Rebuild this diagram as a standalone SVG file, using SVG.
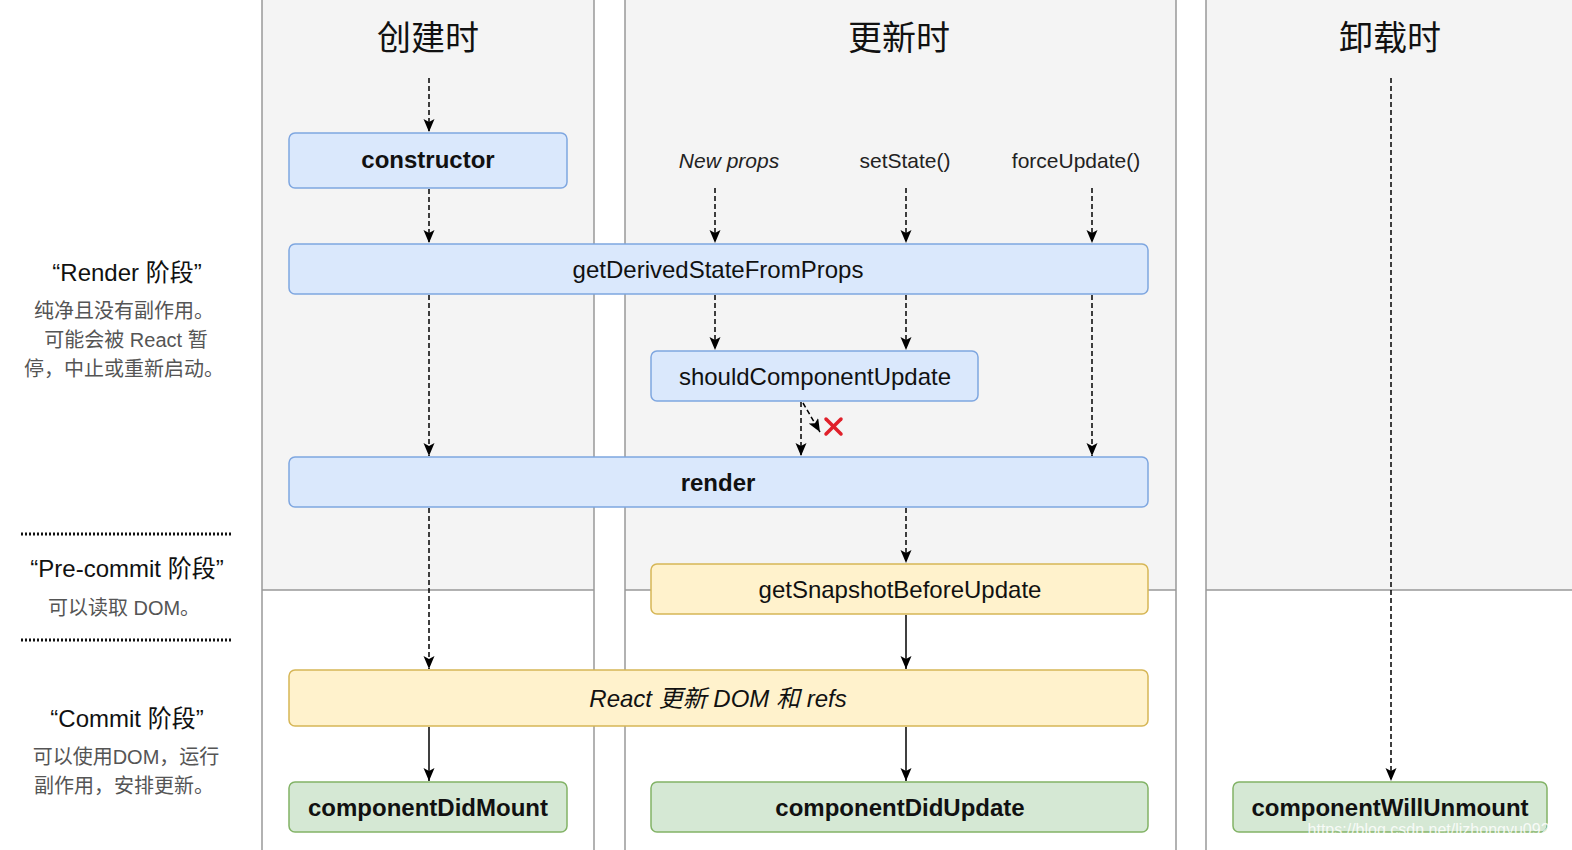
<svg xmlns="http://www.w3.org/2000/svg" width="1572" height="850" viewBox="0 0 1572 850">
<style>
text{font-family:"Liberation Sans","Noto Sans CJK SC",sans-serif;}
.hdr{font-size:34px;fill:#111;text-anchor:middle;}
.blue{fill:#dae8fc;stroke:#7ea6e0;stroke-width:1.5;}
.yel{fill:#fff2cc;stroke:#d6b656;stroke-width:1.5;}
.grn{fill:#d5e8d4;stroke:#82b366;stroke-width:1.5;}
.bt{font-size:24px;fill:#111;text-anchor:middle;}
.b{font-weight:bold;}
.lab{font-size:21px;fill:#222;text-anchor:middle;}
.lt{font-size:24px;fill:#111;text-anchor:middle;}
.ls{font-size:20px;fill:#555;text-anchor:middle;}
.d{stroke:#000;stroke-width:1.5;stroke-dasharray:5 3;fill:none;marker-end:url(#ah);}
.s{stroke:#000;stroke-width:1.5;fill:none;marker-end:url(#ah);}
.col{stroke:#999;stroke-width:1.5;}
</style>
<defs>
<marker id="ah" markerWidth="14" markerHeight="12" refX="13" refY="5.5" orient="auto" markerUnits="userSpaceOnUse">
<path d="M0,0 L13,5.5 L0,11 L3,5.5 Z" fill="#000"/>
</marker>
</defs>
<rect width="1572" height="850" fill="#fff"/>
<g id="columns">
<rect x="262" y="0" width="332" height="590" fill="#f4f4f4"/>
<rect x="625" y="0" width="551" height="590" fill="#f4f4f4"/>
<rect x="1206" y="0" width="366" height="590" fill="#f4f4f4"/>
<line class="col" x1="262" y1="590" x2="594" y2="590" stroke="#bbb"/>
<line class="col" x1="625" y1="590" x2="1176" y2="590" stroke="#bbb"/>
<line class="col" x1="1206" y1="590" x2="1572" y2="590" stroke="#bbb"/>
<line class="col" x1="262" y1="0" x2="262" y2="850"/>
<line class="col" x1="594" y1="0" x2="594" y2="850"/>
<line class="col" x1="625" y1="0" x2="625" y2="850"/>
<line class="col" x1="1176" y1="0" x2="1176" y2="850"/>
<line class="col" x1="1206" y1="0" x2="1206" y2="850"/>
<text class="hdr" x="428" y="50">创建时</text>
<text class="hdr" x="899" y="50">更新时</text>
<text class="hdr" x="1390" y="50">卸载时</text>
</g>
<g id="phases">
<text class="lt" x="127" y="281">“Render 阶段”</text>
<text class="ls" x="124" y="318">纯净且没有副作用。</text>
<text class="ls" x="126" y="347">可能会被 React 暂</text>
<text class="ls" x="124" y="376">停，中止或重新启动。</text>
<line x1="21" y1="534" x2="233" y2="534" stroke="#111" stroke-width="3" stroke-dasharray="2 2"/>
<text class="lt" x="127" y="577">“Pre-commit 阶段”</text>
<text class="ls" x="124" y="615">可以读取 DOM。</text>
<line x1="21" y1="640" x2="233" y2="640" stroke="#111" stroke-width="3" stroke-dasharray="2 2"/>
<text class="lt" x="127" y="727">“Commit 阶段”</text>
<text class="ls" x="126" y="764">可以使用DOM，运行</text>
<text class="ls" x="124" y="793">副作用，安排更新。</text>
</g>
<g id="labels">
<text class="lab" x="729" y="168" font-style="italic">New props</text>
<text class="lab" x="905" y="168">setState()</text>
<text class="lab" x="1076" y="168">forceUpdate()</text>
</g>
<g id="connectors">
<line class="d" x1="429" y1="78" x2="429" y2="132"/>
<line class="d" x1="429" y1="189" x2="429" y2="243"/>
<line class="d" x1="429" y1="295" x2="429" y2="456"/>
<line class="d" x1="429" y1="508" x2="429" y2="669"/>
<line class="s" x1="429" y1="727" x2="429" y2="781"/>
<line class="d" x1="715" y1="188" x2="715" y2="243"/>
<line class="d" x1="715" y1="295" x2="715" y2="350"/>
<line class="d" x1="906" y1="188" x2="906" y2="243"/>
<line class="d" x1="906" y1="295" x2="906" y2="350"/>
<line class="d" x1="906" y1="508" x2="906" y2="563"/>
<line class="s" x1="906" y1="615" x2="906" y2="669"/>
<line class="s" x1="906" y1="727" x2="906" y2="781"/>
<line class="d" x1="1092" y1="188" x2="1092" y2="243"/>
<line class="d" x1="1092" y1="295" x2="1092" y2="456"/>
<line class="d" x1="801" y1="402" x2="801" y2="456"/>
<line class="d" x1="803" y1="403" x2="820" y2="432"/>
<line class="d" x1="1391" y1="78" x2="1391" y2="781"/>
<g stroke="#e0202a" stroke-width="3.5" stroke-linecap="round">
<line x1="826" y1="419" x2="841" y2="434"/>
<line x1="841" y1="419" x2="826" y2="434"/>
</g>
</g>
<g id="constructor"><rect class="blue" x="289" y="133" width="278" height="55" rx="6"/><text class="bt b" x="428" y="168">constructor</text></g>
<g id="gdsfp"><rect class="blue" x="289" y="244" width="859" height="50" rx="6"/><text class="bt" x="718" y="278">getDerivedStateFromProps</text></g>
<g id="scu"><rect class="blue" x="651" y="351" width="327" height="50" rx="6"/><text class="bt" x="815" y="385">shouldComponentUpdate</text></g>
<g id="render"><rect class="blue" x="289" y="457" width="859" height="50" rx="6"/><text class="bt b" x="718" y="491">render</text></g>
<g id="gsbu"><rect class="yel" x="651" y="564" width="497" height="50" rx="6"/><text class="bt" x="900" y="598">getSnapshotBeforeUpdate</text></g>
<g id="reactdom"><rect class="yel" x="289" y="670" width="859" height="56" rx="6"/><text class="bt" x="718" y="707" font-style="italic">React 更新 DOM 和 refs</text></g>
<g id="cdm"><rect class="grn" x="289" y="782" width="278" height="50" rx="6"/><text class="bt b" x="428" y="816">componentDidMount</text></g>
<g id="cdu"><rect class="grn" x="651" y="782" width="497" height="50" rx="6"/><text class="bt b" x="900" y="816">componentDidUpdate</text></g>
<g id="cwu"><rect class="grn" x="1233" y="782" width="314" height="50" rx="6"/><text class="bt b" x="1390" y="816">componentWillUnmount</text></g>
<text x="1433" y="835" font-size="16" fill="#fff" fill-opacity="0.85" text-anchor="middle">https://blog.csdn.net/lizhongyu0922</text>
</svg>
